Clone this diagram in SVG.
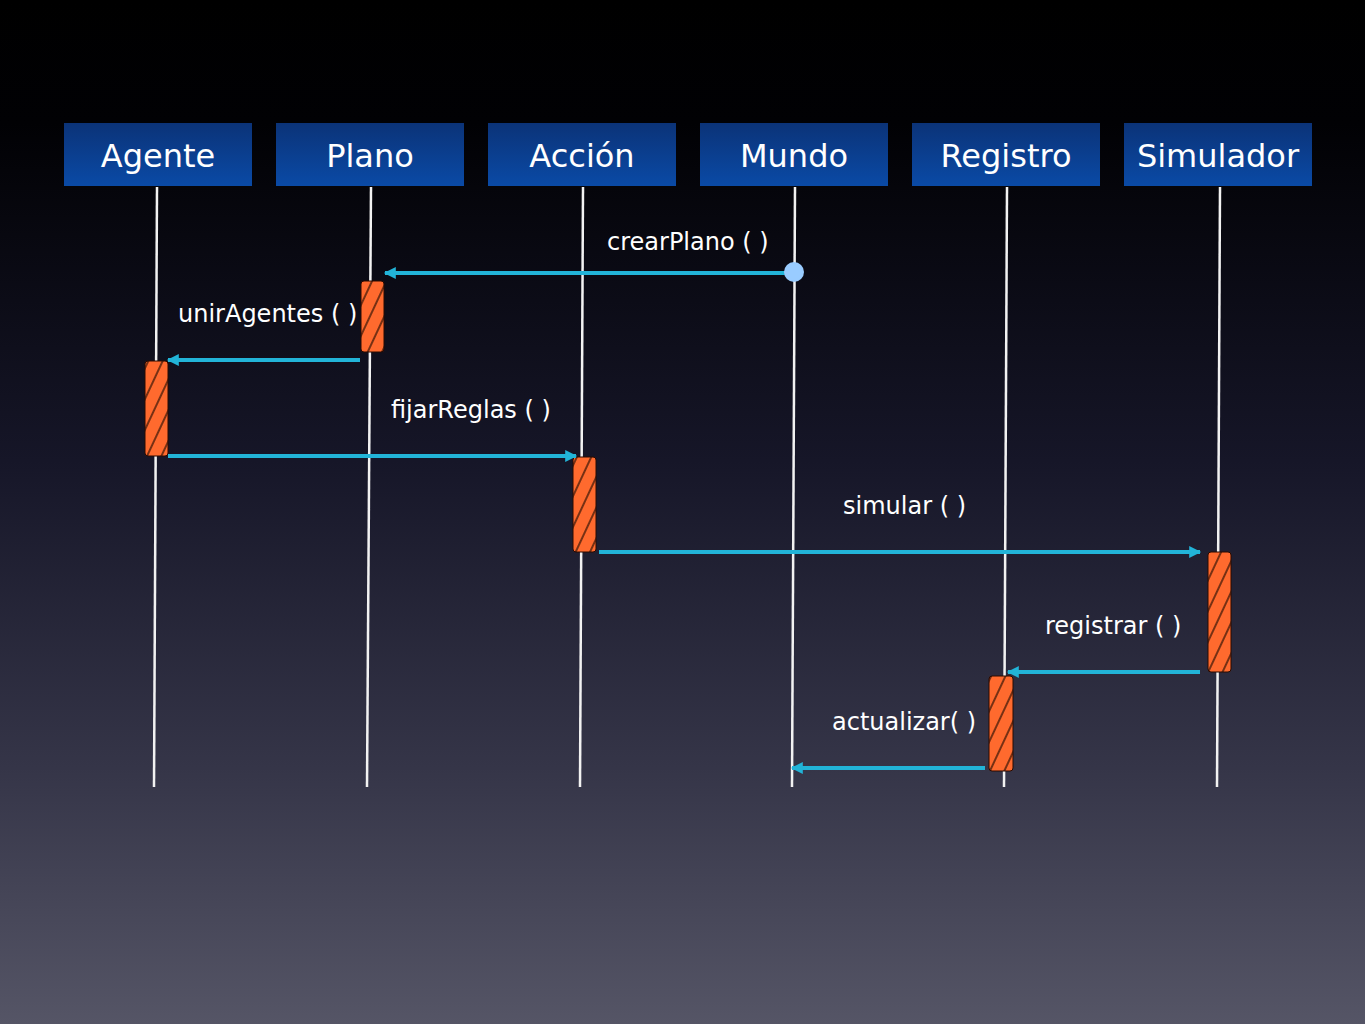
<svg xmlns="http://www.w3.org/2000/svg" width="1365" height="1024" viewBox="0 0 1365 1024">
<defs>
<linearGradient id="bg" x1="0" y1="0" x2="0" y2="1">
<stop offset="0" stop-color="#000000"/>
<stop offset="0.12" stop-color="#010104"/>
<stop offset="0.45" stop-color="#161628"/>
<stop offset="0.75" stop-color="#353548"/>
<stop offset="1" stop-color="#555566"/>
</linearGradient>
<linearGradient id="hdr" x1="0" y1="0" x2="0" y2="1">
<stop offset="0" stop-color="#0b3378"/>
<stop offset="1" stop-color="#0a4aa6"/>
</linearGradient>
<pattern id="hatch" patternUnits="userSpaceOnUse" width="13" height="40" patternTransform="rotate(25)">
<rect width="13" height="40" fill="#ff6a2e"/>
<line x1="1" y1="0" x2="1" y2="40" stroke="#1a0800" stroke-width="1.2"/>
</pattern>
<marker id="ah" viewBox="0 0 10 10" refX="9" refY="5" markerWidth="3.2" markerHeight="3" orient="auto-start-reverse" markerUnits="strokeWidth">
<path d="M0,0 L10,5 L0,10 Z" fill="#22b4d8"/>
</marker>
</defs>
<style>
.hdr{fill:url(#hdr);}
.ht{fill:#ffffff;font-family:"DejaVu Sans",sans-serif;font-size:32px;text-anchor:middle;}
.life{stroke:#f2f2f2;stroke-width:2.5;fill:none;}
.act{fill:url(#hatch);stroke:#2a0a00;stroke-width:1;}
.msg{stroke:#22b4d8;stroke-width:4;fill:none;marker-end:url(#ah);}
.lbl{fill:#ffffff;font-family:"DejaVu Sans",sans-serif;font-size:24px;}
</style>
<rect width="1365" height="1024" fill="url(#bg)"/>

<g id="agente">
<rect class="hdr" x="64" y="123" width="188" height="63"/>
<text class="ht" x="158" y="167">Agente</text>
<line class="life" x1="157" y1="187" x2="154" y2="787"/>
<rect class="act" x="145" y="361" width="23" height="95" rx="3"/>
</g>
<g id="plano">
<rect class="hdr" x="276" y="123" width="188" height="63"/>
<text class="ht" x="370" y="167">Plano</text>
<line class="life" x1="371" y1="187" x2="367" y2="787"/>
<rect class="act" x="361" y="281" width="23" height="71" rx="3"/>
</g>
<g id="accion">
<rect class="hdr" x="488" y="123" width="188" height="63"/>
<text class="ht" x="582" y="167">Acción</text>
<line class="life" x1="583" y1="187" x2="580" y2="787"/>
<rect class="act" x="573" y="457" width="23" height="95" rx="3"/>
</g>
<g id="mundo">
<rect class="hdr" x="700" y="123" width="188" height="63"/>
<text class="ht" x="794" y="167">Mundo</text>
<line class="life" x1="795" y1="187" x2="792" y2="787"/>
</g>
<g id="registro">
<rect class="hdr" x="912" y="123" width="188" height="63"/>
<text class="ht" x="1006" y="167">Registro</text>
<line class="life" x1="1007" y1="187" x2="1004" y2="787"/>
<rect class="act" x="989" y="676" width="24" height="95" rx="3"/>
</g>
<g id="simulador">
<rect class="hdr" x="1124" y="123" width="188" height="63"/>
<text class="ht" x="1218" y="167">Simulador</text>
<line class="life" x1="1220" y1="187" x2="1217" y2="787"/>
<rect class="act" x="1208" y="552" width="23" height="120" rx="3"/>
</g>

<g id="connectors">
<line class="msg" x1="794" y1="273" x2="385" y2="273"/>
<circle cx="794" cy="272" r="10" fill="#99ccff"/>
<line class="msg" x1="360" y1="360" x2="168" y2="360"/>
<line class="msg" x1="168" y1="456" x2="576" y2="456"/>
<line class="msg" x1="599" y1="552" x2="1200" y2="552"/>
<line class="msg" x1="1200" y1="672" x2="1008" y2="672"/>
<line class="msg" x1="985" y1="768" x2="792" y2="768"/>
</g>

<g id="labels">
<text class="lbl" x="607" y="250">crearPlano ( )</text>
<text class="lbl" x="178" y="322">unirAgentes ( )</text>
<text class="lbl" x="391" y="418">fijarReglas ( )</text>
<text class="lbl" x="843" y="514">simular ( )</text>
<text class="lbl" x="1045" y="634">registrar ( )</text>
<text class="lbl" x="832" y="730">actualizar( )</text>
</g>
</svg>
